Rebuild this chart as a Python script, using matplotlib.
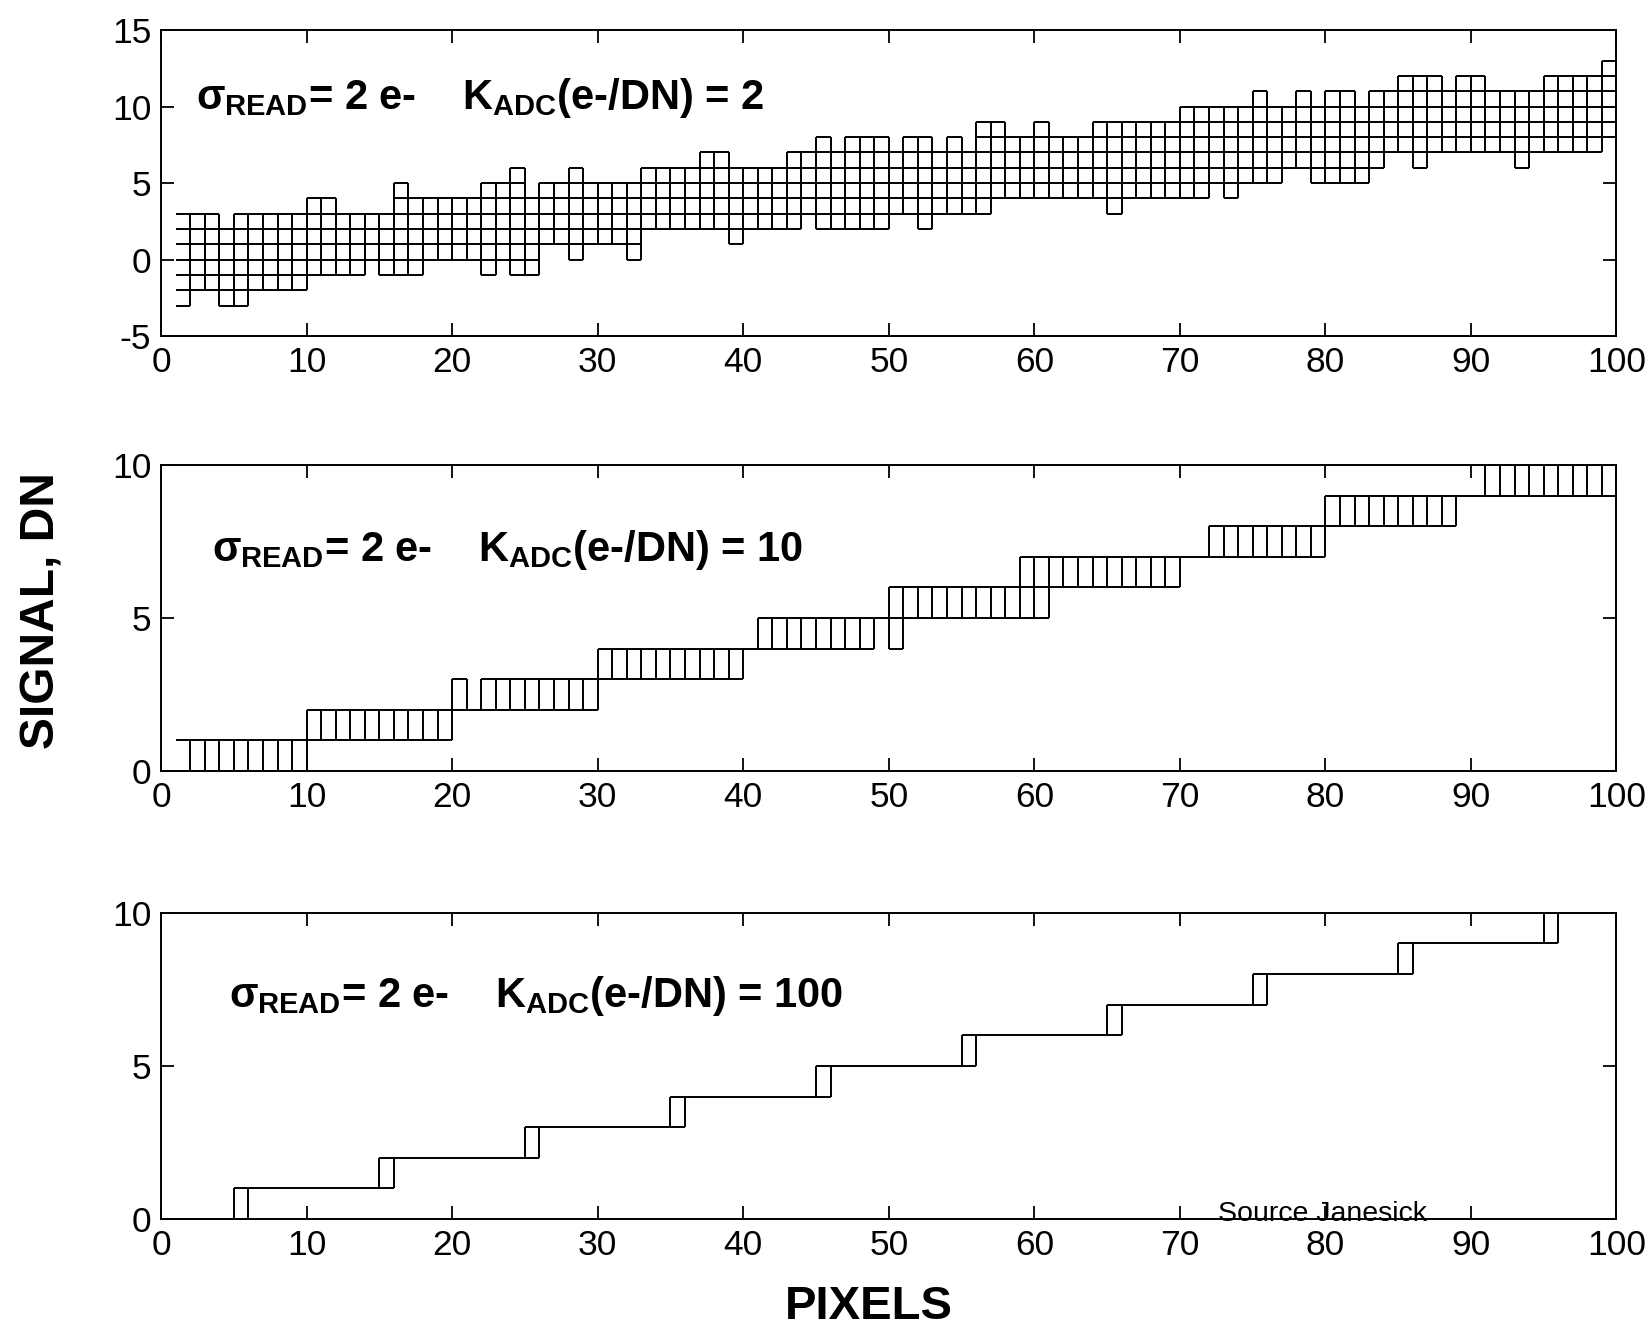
import matplotlib
matplotlib.use('Agg')
import matplotlib.pyplot as plt
import numpy as np

plt.rcParams['font.family'] = ['Liberation Sans', 'DejaVu Sans']
plt.rcParams['axes.unicode_minus'] = False
plt.rcParams['mathtext.fontset'] = 'custom'
plt.rcParams['mathtext.rm'] = 'Liberation Sans:bold'
plt.rcParams['mathtext.it'] = 'Liberation Sans:bold'
plt.rcParams['mathtext.bf'] = 'Liberation Sans:bold'
plt.rcParams['mathtext.sf'] = 'Liberation Sans:bold'

# pixel columns 1..99 (column i spans x = i .. i+1)
pixels = np.arange(1, 100)

# K_ADC = 2 : lowest / highest DN seen in each pixel
lo_k2 = [-3, -2, -2, -3, -3, -2, -2, -2, -2, -1,
         -1, -1, -1, 0, -1, -1, -1, 0, 0, 0,
         0, -1, 0, -1, -1, 1, 1, 0, 1, 1,
         1, 0, 2, 2, 2, 2, 2, 2, 1, 2,
         2, 2, 2, 3, 2, 2, 2, 2, 2, 3,
         3, 2, 3, 3, 3, 3, 4, 4, 4, 4,
         4, 4, 4, 4, 3, 4, 4, 4, 4, 4,
         4, 5, 4, 5, 5, 5, 6, 6, 5, 5,
         5, 5, 6, 7, 7, 6, 7, 7, 7, 7,
         7, 7, 6, 7, 7, 7, 7, 7, 8]
hi_k2 = [3, 3, 3, 2, 3, 3, 3, 3, 3, 4,
         4, 3, 3, 3, 3, 5, 4, 4, 4, 4,
         4, 5, 5, 6, 4, 5, 5, 6, 5, 5,
         5, 5, 6, 6, 6, 6, 7, 7, 6, 6,
         6, 6, 7, 7, 8, 7, 8, 8, 8, 7,
         8, 8, 7, 8, 7, 9, 9, 8, 8, 9,
         8, 8, 8, 9, 9, 9, 9, 9, 9, 10,
         10, 10, 10, 10, 11, 10, 10, 11, 10, 11,
         11, 10, 11, 11, 12, 12, 12, 11, 12, 12,
         11, 11, 11, 11, 12, 12, 12, 12, 13]

# K_ADC = 10
lo_k10 = [0, 0, 0, 0, 0, 0, 0, 0, 0, 1,
          1, 1, 1, 1, 1, 1, 1, 1, 1, 2,
          2, 2, 2, 2, 2, 2, 2, 2, 2, 3,
          3, 3, 3, 3, 3, 3, 3, 3, 3, 4,
          4, 4, 4, 4, 4, 4, 4, 4, 5, 4,
          5, 5, 5, 5, 5, 5, 5, 5, 5, 5,
          6, 6, 6, 6, 6, 6, 6, 6, 6, 7,
          7, 7, 7, 7, 7, 7, 7, 7, 7, 8,
          8, 8, 8, 8, 8, 8, 8, 8, 9, 9,
          9, 9, 9, 9, 9, 9, 9, 9, 9]
hi_k10 = [1, 1, 1, 1, 1, 1, 1, 1, 1, 2,
          2, 2, 2, 2, 2, 2, 2, 2, 2, 3,
          2, 3, 3, 3, 3, 3, 3, 3, 3, 4,
          4, 4, 4, 4, 4, 4, 4, 4, 4, 4,
          5, 5, 5, 5, 5, 5, 5, 5, 5, 6,
          6, 6, 6, 6, 6, 6, 6, 6, 7, 7,
          7, 7, 7, 7, 7, 7, 7, 7, 7, 7,
          7, 8, 8, 8, 8, 8, 8, 8, 8, 9,
          9, 9, 9, 9, 9, 9, 9, 9, 9, 9,
          10, 10, 10, 10, 10, 10, 10, 10, 10]

# K_ADC = 100
lo_k100 = [0, 0, 0, 0, 0, 1, 1, 1, 1, 1,
           1, 1, 1, 1, 1, 2, 2, 2, 2, 2,
           2, 2, 2, 2, 2, 3, 3, 3, 3, 3,
           3, 3, 3, 3, 3, 4, 4, 4, 4, 4,
           4, 4, 4, 4, 4, 5, 5, 5, 5, 5,
           5, 5, 5, 5, 5, 6, 6, 6, 6, 6,
           6, 6, 6, 6, 6, 7, 7, 7, 7, 7,
           7, 7, 7, 7, 7, 8, 8, 8, 8, 8,
           8, 8, 8, 8, 8, 9, 9, 9, 9, 9,
           9, 9, 9, 9, 9, 10, 10, 10, 10]
hi_k100 = [0, 0, 0, 0, 1, 1, 1, 1, 1, 1,
           1, 1, 1, 1, 2, 2, 2, 2, 2, 2,
           2, 2, 2, 2, 3, 3, 3, 3, 3, 3,
           3, 3, 3, 3, 4, 4, 4, 4, 4, 4,
           4, 4, 4, 4, 5, 5, 5, 5, 5, 5,
           5, 5, 5, 5, 6, 6, 6, 6, 6, 6,
           6, 6, 6, 6, 7, 7, 7, 7, 7, 7,
           7, 7, 7, 7, 8, 8, 8, 8, 8, 8,
           8, 8, 8, 8, 9, 9, 9, 9, 9, 9,
           9, 9, 9, 9, 10, 10, 10, 10, 10]

k_adc = [2, 10, 100]
ylims = [(-5, 15), (0, 10), (0, 10)]
yticks = [[-5, 0, 5, 10, 15], [0, 5, 10], [0, 5, 10]]
xticks = np.arange(0, 101, 10)


def draw_cells(ax, lo, hi):
    # horizontal edges at every DN level inside each pixel column
    hy, hx0, hx1 = [], [], []
    for p, a, b in zip(pixels, lo, hi):
        for v in range(a, b + 1):
            hy.append(v)
            hx0.append(p)
            hx1.append(p + 1)
    ax.hlines(hy, hx0, hx1, colors='k', lw=1.4)
    # vertical edges between neighbouring columns (+ the last right edge)
    vx, vy0, vy1 = [], [], []
    for k in range(len(pixels)):
        if k + 1 < len(pixels):
            a = min(lo[k], lo[k + 1])
            b = max(hi[k], hi[k + 1])
        else:
            a, b = lo[k], hi[k]
        if b > a:
            vx.append(pixels[k] + 1)
            vy0.append(a)
            vy1.append(b)
    ax.vlines(vx, vy0, vy1, colors='k', lw=1.4)


fig = plt.figure(figsize=(16.52, 13.34), dpi=100)
bottoms = [0.748, 0.422, 0.0862]
data = [(lo_k2, hi_k2), (lo_k10, hi_k10), (lo_k100, hi_k100)]
txt_pos = [(0.024, 0.743), (0.035, 0.687), (0.047, 0.694)]

axs = []
for n in range(3):
    ax = fig.add_axes([0.0975, bottoms[n], 0.881, 0.2295])
    draw_cells(ax, *data[n])
    ax.set_xlim(0, 100)
    ax.set_ylim(*ylims[n])
    ax.set_xticks(xticks)
    ax.set_yticks(yticks[n])
    ax.tick_params(direction='in', top=True, right=True, length=9.5,
                   width=1.3, labelsize=25.5, pad=7)
    for s in ax.spines.values():
        s.set_linewidth(1.4)
    ax.text(txt_pos[n][0], txt_pos[n][1],
            r'$\sigma_{\mathrm{READ}}$= 2 e-    $\mathrm{K}_{\mathrm{ADC}}$(e-/DN) = ' + str(k_adc[n]),
            transform=ax.transAxes, fontsize=30, fontweight='bold', va='baseline')
    axs.append(ax)

axs[2].text(72.6, -0.05, 'Source Janesick', fontsize=20.5, va='baseline')

fig.text(0.0254, 0.542, 'SIGNAL, DN', rotation=90, fontsize=34.5,
         fontweight='bold', ha='center', va='center')
fig.text(0.526, 0.0206, 'PIXELS', fontsize=34, fontweight='bold',
         ha='center', va='center')

fig.savefig('out.png', dpi=100)
